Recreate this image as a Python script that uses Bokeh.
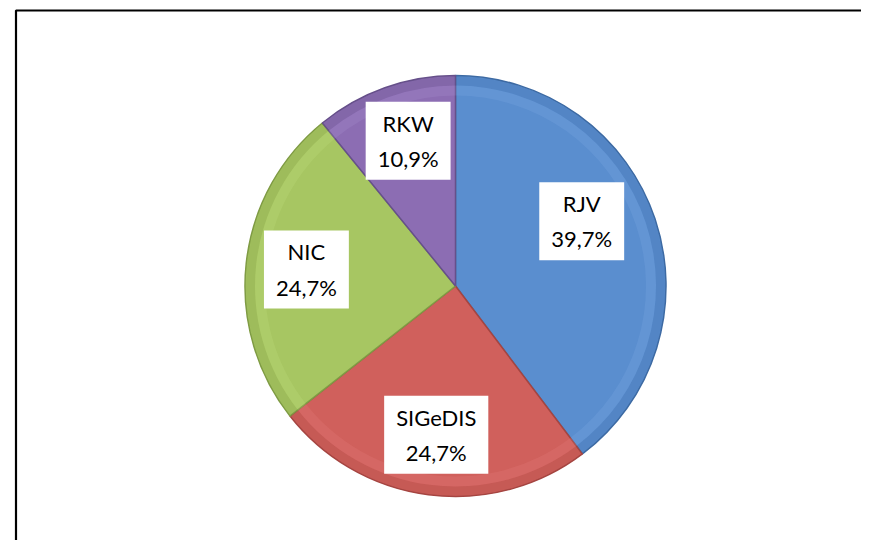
import numpy as np
from bokeh.plotting import figure
from bokeh.models import Range1d, ColumnDataSource
from bokeh.core.properties import value
from bokeh.embed import file_html
from bokeh.resources import INLINE

# ---- data ----
categories = ["RJV", "SIGeDIS", "NIC", "RKW"]
shares = [39.7, 24.7, 24.7, 10.9]
label_texts = ["39,7%", "24,7%", "24,7%", "10,9%"]
colors = ["#5a8ecf", "#d0605c", "#a7c662", "#8c6db3"]
edge_colors = ["#3d6aa3", "#a54541", "#7f9b44", "#66508a"]
light_colors = ["#8fb8ec", "#f08c88", "#cbe98a", "#b7a0dc"]

W, H = 861, 540
p = figure(width=W, height=H, output_backend="svg", toolbar_location=None,
           x_range=Range1d(0, W), y_range=Range1d(556 - H, 556),
           x_axis_location=None, y_axis_location=None, min_border=0)
p.grid.visible = False
p.outline_line_color = None
p.background_fill_color = "white"
p.border_fill_color = "white"

# chart frame (continues past the visible area at right/bottom)
p.quad(left=15.5, right=1200, top=556 - 10, bottom=-300,
       fill_color=None, line_color="black", line_width=2.2)

cx, cy, R = 455, 270.5, 210.5
vals = np.array(shares, dtype=float)
frac = vals / vals.sum()
cum = np.concatenate([[0], np.cumsum(frac)])
a_start = np.pi / 2 - cum[:-1] * 2 * np.pi   # clockwise from top
a_end = np.pi / 2 - cum[1:] * 2 * np.pi
mid = (a_start + a_end) / 2

src = ColumnDataSource(dict(cat=categories, start=a_end, end=a_start,
                            color=colors, edge=edge_colors, light=light_colors))
p.wedge(x=cx, y=cy, radius=R, start_angle="start", end_angle="end",
        fill_color="color", line_color="edge", line_width=1.5, source=src)
# subtle rim shading
p.annular_wedge(x=cx, y=cy, inner_radius=R - 10, outer_radius=R - 1, start_angle="start",
                end_angle="end", fill_color="edge", fill_alpha=0.22, line_color=None,
                source=src)
p.annular_wedge(x=cx, y=cy, inner_radius=R - 20, outer_radius=R - 10, start_angle="start",
                end_angle="end", fill_color="light", fill_alpha=0.18, line_color=None,
                source=src)

# labels
lr = 150
nudge_x = [-16, 0, 0, 3]
nudge_y = [17, 0, 0, 4]
lx = cx + lr * np.cos(mid) + np.array(nudge_x)
ly = cy + lr * np.sin(mid) + np.array(nudge_y)
lsrc = ColumnDataSource(dict(x=lx, y=ly,
                             t=[f"{c}\n{v}" for c, v in zip(categories, label_texts)]))
p.text(x="x", y="y", text="t", source=lsrc, text_align="center", text_baseline="middle",
       text_font=value("Lato"), text_font_size="22px", text_color="black",
       text_line_height=1.3, background_fill_color="white",
       padding=dict(left=12, right=12, top=8, bottom=8))

open("out.html", "w").write(file_html(p, INLINE))
